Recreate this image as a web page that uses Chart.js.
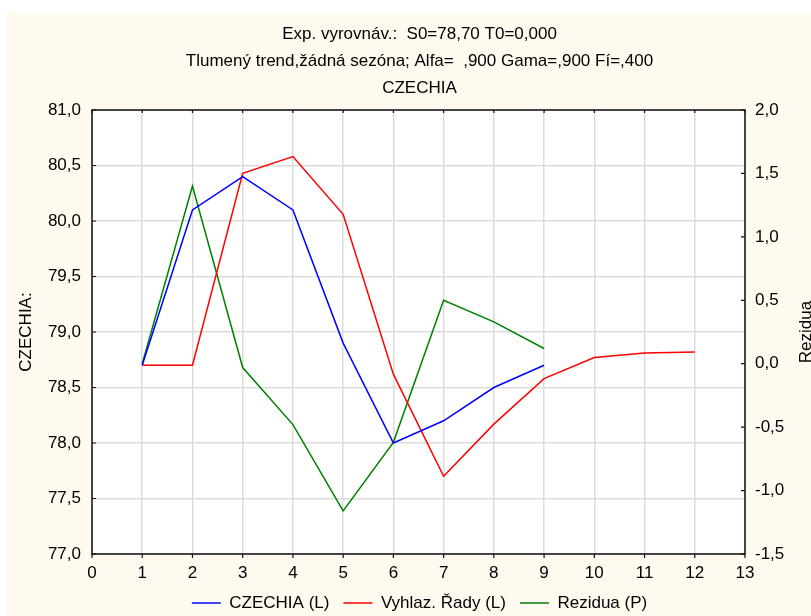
<!DOCTYPE html>
<html>
<head>
<meta charset="utf-8">
<script src="https://cdn.jsdelivr.net/npm/chart.js@4/dist/chart.umd.min.js"></script>
<style>
  html, body { margin: 0; padding: 0; background: #ffffff; }
  #wrap { width: 811px; height: 616px; position: relative; }
</style>
</head>
<body>
<div id="wrap"><canvas id="c" width="811" height="616"></canvas></div>
<script>
// ---- Data ----
const titleLines = [
  'Exp. vyrovnáv.:  S0=78,70 T0=0,000',
  'Tlumený trend,žádná sezóna; Alfa=  ,900 Gama=,900 Fí=,400',
  'CZECHIA'
];
const seriesNames = ['CZECHIA (L)', 'Vyhlaz. Řady (L)', 'Rezidua (P)'];
const leftAxisTitle = 'CZECHIA:';
const rightAxisTitle = 'Rezidua';

const xValues = [1, 2, 3, 4, 5, 6, 7, 8, 9, 10, 11, 12];
const czechia   = [78.7, 80.1, 80.4, 80.1, 78.9, 78.0, 78.2, 78.5, 78.7];
const smoothed  = [78.7, 78.7, 80.43, 80.58, 80.06, 78.62, 77.70, 78.17, 78.58, 78.77, 78.81, 78.82];
const residuals = [0.0, 1.40, -0.03, -0.48, -1.16, -0.62, 0.50, 0.33, 0.12];

const xTicks      = [0, 1, 2, 3, 4, 5, 6, 7, 8, 9, 10, 11, 12, 13];
const leftTicks   = [77.0, 77.5, 78.0, 78.5, 79.0, 79.5, 80.0, 80.5, 81.0];
const rightTicks  = [-1.5, -1.0, -0.5, 0.0, 0.5, 1.0, 1.5, 2.0];

// ---- Build points from arrays ----
const toPoints = (vals) => vals.map((v, i) => ({x: xValues[i], y: v}));
const fmt = (v) => v.toFixed(1).replace('.', ',');

const FONT_FAMILY = '"Liberation Sans", Arial, sans-serif';
const FS = 17;
const CREAM = '#fffaef';
const GRID = '#dcdcdc';

const decorPlugin = {
  id: 'decor',
  beforeDraw(chart) {
    const {ctx, chartArea: a} = chart;
    ctx.save();
    ctx.fillStyle = '#ffffff';
    ctx.fillRect(0, 0, chart.width, chart.height);
    ctx.fillStyle = CREAM;
    ctx.fillRect(6, 12, chart.width - 6, chart.height - 12);
    ctx.fillStyle = '#ffffff';
    ctx.fillRect(a.left, a.top, a.right - a.left, a.bottom - a.top);
    ctx.restore();
  },
  afterDraw(chart) {
    const {ctx, chartArea: a, scales} = chart;
    ctx.save();
    // frame
    ctx.strokeStyle = '#111';
    ctx.lineWidth = 1.5;
    ctx.strokeRect(a.left, a.top, a.right - a.left, a.bottom - a.top);
    // tick marks
    ctx.lineWidth = 1.2;
    ctx.beginPath();
    xTicks.forEach(v => {
      const px = scales.x.getPixelForValue(v);
      ctx.moveTo(px, a.bottom); ctx.lineTo(px, a.bottom + 4);
      ctx.moveTo(px, a.top); ctx.lineTo(px, a.top + 3);
    });
    leftTicks.forEach(v => {
      const py = scales.y.getPixelForValue(v);
      ctx.moveTo(a.left, py); ctx.lineTo(a.left + 4, py);
    });
    rightTicks.forEach(v => {
      const py = scales.y1.getPixelForValue(v);
      ctx.moveTo(a.right - 4, py); ctx.lineTo(a.right, py);
    });
    ctx.stroke();
    // axis titles
    ctx.fillStyle = '#000';
    ctx.font = FS + 'px ' + FONT_FAMILY;
    ctx.textAlign = 'center';
    ctx.textBaseline = 'middle';
    const cy = (a.top + a.bottom) / 2;
    ctx.save();
    ctx.translate(26, cy);
    ctx.rotate(-Math.PI / 2);
    ctx.fillText(leftAxisTitle, 0, 0);
    ctx.restore();
    ctx.save();
    ctx.translate(806, cy);
    ctx.rotate(-Math.PI / 2);
    ctx.fillText(rightAxisTitle, 0, 0);
    ctx.restore();
    ctx.restore();
  }
};

Chart.defaults.font.family = FONT_FAMILY;
Chart.defaults.font.size = FS;
Chart.defaults.color = '#000';

new Chart(document.getElementById('c'), {
  type: 'line',
  data: {
    datasets: [
      { label: seriesNames[0], data: toPoints(czechia), borderColor: '#0000ff', backgroundColor: '#0000ff', borderWidth: 1.5, pointRadius: 0, yAxisID: 'y', tension: 0 },
      { label: seriesNames[1], data: toPoints(smoothed), borderColor: '#ff0000', backgroundColor: '#ff0000', borderWidth: 1.5, pointRadius: 0, yAxisID: 'y', tension: 0 },
      { label: seriesNames[2], data: toPoints(residuals), borderColor: '#008000', backgroundColor: '#008000', borderWidth: 1.5, pointRadius: 0, yAxisID: 'y1', tension: 0 }
    ]
  },
  options: {
    responsive: false,
    animation: false,
    devicePixelRatio: 1,
    layout: { padding: { left: 28, right: 0, top: 0, bottom: 0 } },
    scales: {
      x: {
        type: 'linear', min: 0, max: 13,
        afterBuildTicks: (s) => { s.ticks = xTicks.map(v => ({value: v})); },
        ticks: { padding: 9, callback: (v) => String(v), maxRotation: 0, autoSkip: false },
        grid: { color: GRID, lineWidth: 1.5, drawTicks: false },
        border: { display: false },
        afterFit: (s) => { s.height = 26.5; }
      },
      y: {
        type: 'linear', position: 'left', min: 77, max: 81,
        afterBuildTicks: (s) => { s.ticks = leftTicks.map(v => ({value: v})); },
        ticks: { padding: 11, callback: (v) => fmt(v) },
        grid: { color: GRID, lineWidth: 1.5, drawTicks: false },
        border: { display: false },
        afterFit: (s) => { s.width = 64; }
      },
      y1: {
        type: 'linear', position: 'right', min: -1.5, max: 2.0,
        afterBuildTicks: (s) => { s.ticks = rightTicks.map(v => ({value: v})); },
        ticks: { padding: 10, callback: (v) => fmt(v) },
        grid: { display: false, drawTicks: false },
        border: { display: false },
        afterFit: (s) => { s.width = 66; }
      }
    },
    plugins: {
      title: {
        display: true,
        text: titleLines,
        color: '#000',
        font: { size: FS, weight: 'normal', lineHeight: 27 / FS },
        padding: { top: 20.5, bottom: 8.5 }
      },
      legend: {
        position: 'bottom',
        maxHeight: 35.5,
        labels: {
          usePointStyle: true,
          pointStyle: 'line',
          pointStyleWidth: 29,
          padding: 14,
          color: '#000',
          font: { size: FS }
        }
      },
      tooltip: { enabled: false }
    }
  },
  plugins: [decorPlugin]
});
</script>
</body>
</html>
